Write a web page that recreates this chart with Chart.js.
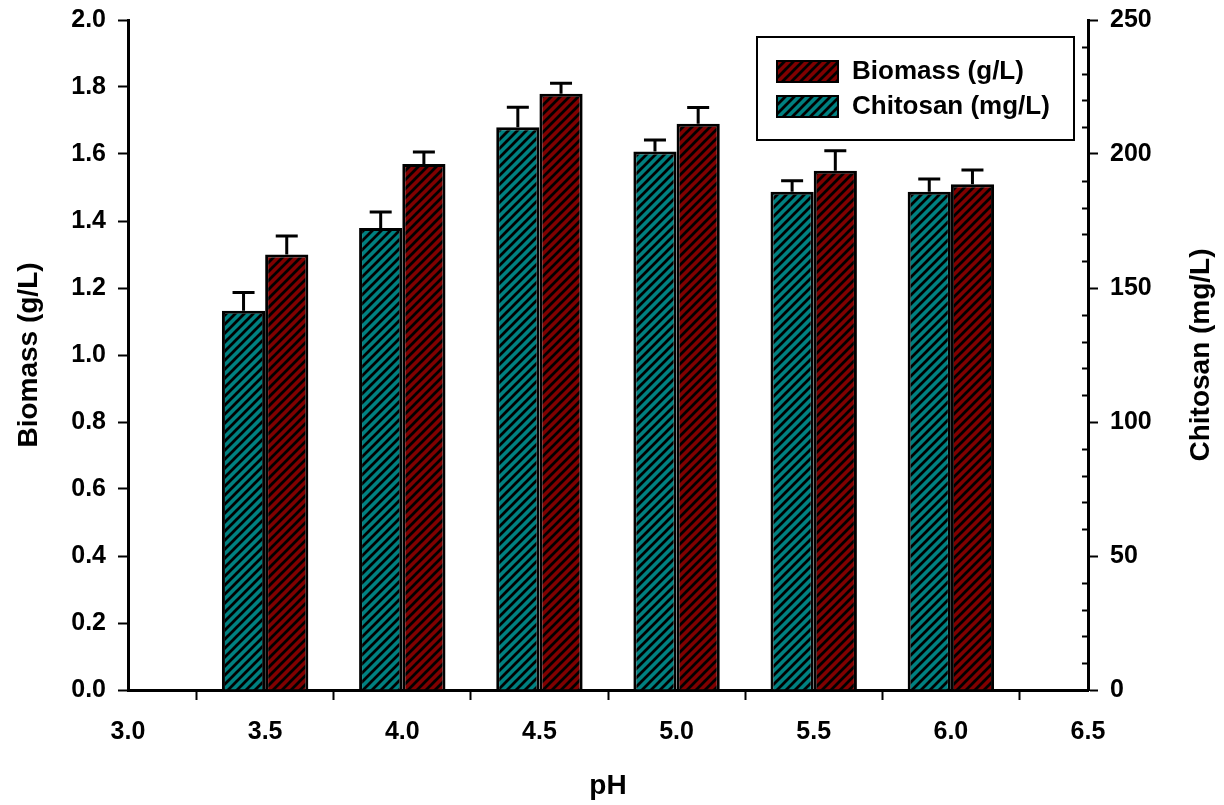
<!DOCTYPE html>
<html>
<head>
<meta charset="utf-8">
<script src="https://cdn.jsdelivr.net/npm/chart.js@4"></script>
<style>
  html, body { margin: 0; padding: 0; background: #fff; }
  #wrap { width: 1224px; height: 805px; }
</style>
</head>
<body>
<div id="wrap"><canvas id="grafico"></canvas></div>
<script>
// dados
const ph = [3.5, 4.0, 4.5, 5.0, 5.5, 6.0];
const biomassa = [1.30, 1.57, 1.78, 1.69, 1.55, 1.51];       // g/L
const biomassaErro = [0.055, 0.036, 0.031, 0.049, 0.060, 0.042];
const quitosana = [141.5, 172.4, 210.0, 200.9, 185.9, 185.9];  // mg/L
const quitosanaErro = [6.8, 6.0, 7.4, 4.3, 4.1, 4.8];
const legendas = ['Biomass (g/L)', 'Chitosan (mg/L)'];

const VERMELHO = '#800000';
const TEAL = '#008080';

function hachura(cor) {
    const n = 9;
    const c = document.createElement('canvas');
    c.width = n; c.height = n;
    const g = c.getContext('2d');
    g.fillStyle = cor;
    g.fillRect(0, 0, n, n);
    g.strokeStyle = '#000';
    g.lineWidth = 2.8;
    g.beginPath();
    g.moveTo(-1, n + 1); g.lineTo(n + 1, -1);
    g.moveTo(-3, 3); g.lineTo(3, -3);
    g.moveTo(n - 3, n + 3); g.lineTo(n + 3, n - 3);
    g.stroke();
    return g.createPattern(c, 'repeat');
}

const padraoVermelho = hachura(VERMELHO);
const padraoTeal = hachura(TEAL);

const FAMILIA = 'Arial, "Liberation Sans", sans-serif';
const fonteTick = { family: FAMILIA, size: 25, weight: 'bold' };
const fonteTitulo = { family: FAMILIA, size: 28, weight: 'bold' };

// barras de erro, ticks menores do eixo direito, titulo direito e legenda
const extras = {
    id: 'extras',
    afterDatasetsDraw(chart) {
        const ctx = chart.ctx;
        const erros = [quitosanaErro, biomassaErro];
        ctx.save();
        ctx.strokeStyle = '#000';
        ctx.lineWidth = 3;
        chart.data.datasets.forEach(function (ds, i) {
            const meta = chart.getDatasetMeta(i);
            const escala = chart.scales[ds.yAxisID];
            meta.data.forEach(function (barra, j) {
                const topo = escala.getPixelForValue(ds.data[j].y + erros[i][j]);
                ctx.beginPath();
                ctx.moveTo(barra.x, barra.y);
                ctx.lineTo(barra.x, topo);
                ctx.moveTo(barra.x - 11, topo);
                ctx.lineTo(barra.x + 11, topo);
                ctx.stroke();
            });
        });
        ctx.restore();
    },
    afterDraw(chart) {
        const ctx = chart.ctx;
        const a = chart.chartArea;
        const y1 = chart.scales.y1;
        ctx.save();
        // ticks menores (para dentro)
        ctx.strokeStyle = '#000';
        ctx.lineWidth = 2;
        for (let v = 10; v < 250; v += 10) {
            if (v % 50 === 0) continue;
            const py = Math.round(y1.getPixelForValue(v)) + 0.5;
            ctx.beginPath();
            ctx.moveTo(a.right - 6, py);
            ctx.lineTo(a.right, py);
            ctx.stroke();
        }
        // titulo do eixo direito (de baixo para cima)
        ctx.fillStyle = '#000';
        ctx.font = 'bold 28px ' + FAMILIA;
        ctx.textAlign = 'center';
        ctx.textBaseline = 'middle';
        ctx.translate(1201, (a.top + a.bottom) / 2);
        ctx.rotate(-Math.PI / 2);
        ctx.fillText('Chitosan (mg/L)', 0, 0);
        ctx.setTransform(1, 0, 0, 1, 0, 0);
        // legenda
        const bx = 757, by = 37, bw = 317, bh = 103;
        ctx.lineWidth = 2;
        ctx.strokeRect(bx, by, bw, bh);
        const itens = [
            { texto: legendas[0], cor: padraoVermelho, y: 61 },
            { texto: legendas[1], cor: padraoTeal, y: 96 }
        ];
        ctx.font = 'bold 26px ' + FAMILIA;
        ctx.textBaseline = 'middle';
        ctx.textAlign = 'left';
        itens.forEach(function (it) {
            ctx.fillStyle = it.cor;
            ctx.fillRect(777, it.y, 61, 21);
            ctx.lineWidth = 2;
            ctx.strokeRect(777, it.y, 61, 21);
            ctx.fillStyle = '#000';
            ctx.fillText(it.texto, 852, it.y + 11);
        });
        ctx.restore();
    }
};

const dados = {
    datasets: [
        {
            label: legendas[1],
            data: ph.map(function (x, i) { return { x: x, y: quitosana[i] }; }),
            yAxisID: 'y1',
            backgroundColor: padraoTeal,
            borderColor: '#000',
            borderWidth: 3,
            categoryPercentage: 0.63,
            barPercentage: 1.0
        },
        {
            label: legendas[0],
            data: ph.map(function (x, i) { return { x: x, y: biomassa[i] }; }),
            yAxisID: 'y',
            backgroundColor: padraoVermelho,
            borderColor: '#000',
            borderWidth: 3,
            categoryPercentage: 0.63,
            barPercentage: 1.0
        }
    ]
};

const eixoComum = {
    grid: { display: true, drawOnChartArea: false, drawTicks: true, tickLength: 10, tickWidth: 2, tickColor: '#000' },
    border: { display: true, width: 3, color: '#000' }
};

const config = {
    type: 'bar',
    data: dados,
    plugins: [extras],
    options: {
        responsive: true,
        maintainAspectRatio: false,
        animation: false,
        layout: { padding: { top: 20, left: 0, right: 0, bottom: 0 } },
        plugins: { legend: { display: false }, tooltip: { enabled: false } },
        scales: {
            x: Object.assign({}, eixoComum, {
                type: 'linear',
                min: 3.0,
                max: 6.5,
                offset: false,
                ticks: { stepSize: 0.5, color: '#000', font: fonteTick, padding: 17,
                    callback: function (v) { return v.toFixed(1); } },
                title: { display: true, text: 'pH', color: '#000', font: fonteTitulo, padding: { top: 0, bottom: 2 } },
                afterFit: function (s) { s.height = 115; }
            }),
            y: Object.assign({}, eixoComum, {
                position: 'left',
                min: 0,
                max: 2.0,
                ticks: { stepSize: 0.2, color: '#000', font: fonteTick, padding: 12,
                    callback: function (v) { return v.toFixed(1); } },
                title: { display: true, text: 'Biomass (g/L)', color: '#000', font: fonteTitulo, padding: { top: 12, bottom: 0 } },
                afterFit: function (s) { s.width = 128; s.paddingTop = 0; s.paddingBottom = 0; }
            }),
            y1: Object.assign({}, eixoComum, {
                position: 'right',
                min: 0,
                max: 250,
                ticks: { stepSize: 50, color: '#000', font: fonteTick, padding: 12 },
                title: { display: false },
                afterFit: function (s) { s.width = 136; s.paddingTop = 0; s.paddingBottom = 0; }
            })
        }
    }
};

const grafico = new Chart(document.getElementById('grafico'), config);
</script>
</body>
</html>
